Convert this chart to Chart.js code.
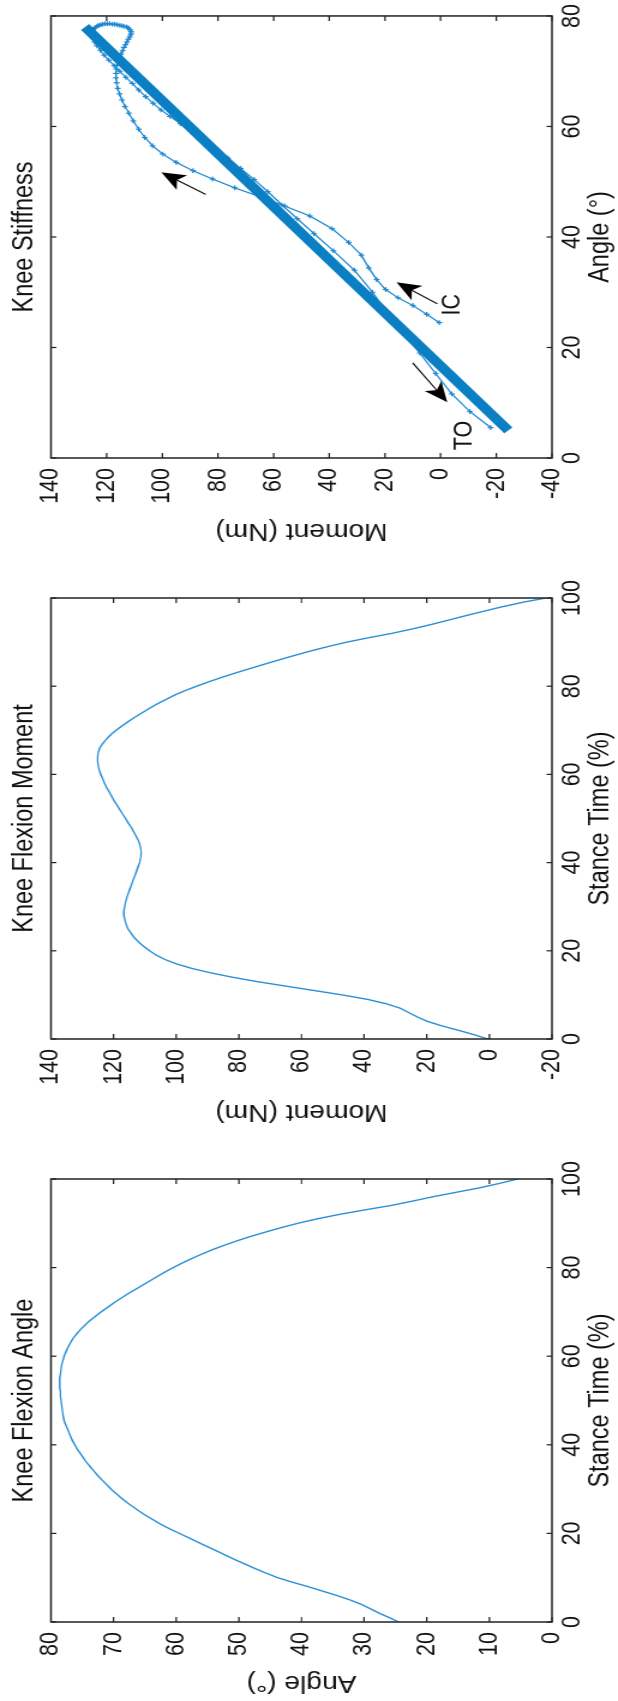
<!DOCTYPE html>
<html>
<head>
<meta charset="utf-8">
<script src="https://cdn.jsdelivr.net/npm/chart.js@4.4.1/dist/chart.umd.min.js"></script>
<style>
  html, body { margin: 0; padding: 0; background: #fff; overflow: hidden; }
  body { width: 618px; height: 1701px; position: relative; }
  /* figure is laid out landscape, then turned a quarter turn to the left */
  #figure { position: absolute; left: 0; top: 0; width: 1701px; height: 515px;
    transform-origin: 0 0; transform: translate(0, 1701px) rotate(-90deg) scale(1, 1.2); }
  #figure canvas { position: absolute; top: 0; }
</style>
</head>
<body>
<div id="figure">
  <canvas id="angleChart" width="544" height="515" style="left:0px"></canvas>
  <canvas id="momentChart" width="553" height="515" style="left:572px"></canvas>
  <canvas id="stiffnessChart" width="548" height="515" style="left:1153px"></canvas>
</div>
<script>
'use strict';

// stance time (%) and the two curves
var stanceTime = [0, 1, 2, 3, 4, 5, 6, 7, 8, 9, 10, 11, 12, 13, 14, 15, 16, 17, 18, 19,
  20, 21, 22, 23, 24, 25, 26, 27, 28, 29, 30, 31, 32, 33, 34, 35, 36, 37, 38, 39,
  40, 41, 42, 43, 44, 45, 46, 47, 48, 49, 50, 51, 52, 53, 54, 55, 56, 57, 58, 59,
  60, 61, 62, 63, 64, 65, 66, 67, 68, 69, 70, 71, 72, 73, 74, 75, 76, 77, 78, 79,
  80, 81, 82, 83, 84, 85, 86, 87, 88, 89, 90, 91, 92, 93, 94, 95, 96, 97, 98, 99, 100];
var kneeAngle = [24.5, 26.0, 27.6, 29.0, 30.5, 32.3, 34.4, 36.7, 39.0, 41.5,
  43.8, 45.6, 47.3, 48.9, 50.5, 52.0, 53.5, 55.0, 56.5, 58.0,
  59.5, 61.0, 62.4, 63.6, 64.8, 65.9, 66.9, 67.9, 68.8, 69.6,
  70.4, 71.1, 71.8, 72.5, 73.1, 73.7, 74.3, 74.8, 75.3, 75.8,
  76.2, 76.6, 76.9, 77.2, 77.5, 77.8, 78.0, 78.1, 78.2, 78.3,
  78.4, 78.5, 78.5, 78.6, 78.6, 78.6, 78.5, 78.4, 78.3, 78.1,
  77.9, 77.6, 77.3, 76.9, 76.5, 75.9, 75.3, 74.6, 73.8, 72.9,
  72.0, 71.0, 70.0, 68.9, 67.8, 66.6, 65.4, 64.2, 63.0, 61.8,
  60.5, 59.1, 57.6, 56.0, 54.3, 52.4, 50.4, 48.2, 45.8, 43.3,
  40.6, 37.5, 34.0, 30.0, 25.8, 22.3, 19.0, 15.3, 11.6, 8.4, 5.5];
var kneeMoment = [0.5, 5.0, 10.0, 15.3, 19.8, 23.0, 25.8, 28.5, 33.0, 39.0,
  47.0, 56.0, 65.0, 74.0, 82.0, 89.0, 95.0, 99.8, 103.5, 106.3,
  108.5, 110.4, 112.0, 113.4, 114.5, 115.4, 116.0, 116.4, 116.7, 116.7,
  116.5, 116.2, 115.8, 115.3, 114.8, 114.3, 113.8, 113.2, 112.7, 112.2,
  111.7, 111.4, 111.2, 111.3, 111.6, 112.1, 112.8, 113.6, 114.4, 115.3,
  116.2, 117.1, 118.0, 118.9, 119.8, 120.6, 121.4, 122.2, 122.9, 123.5,
  124.1, 124.6, 124.9, 125.1, 125.1, 124.9, 124.4, 123.5, 122.3, 120.9,
  119.2, 117.3, 115.3, 113.1, 110.8, 108.5, 106.0, 103.3, 100.5, 97.2,
  93.5, 89.6, 85.5, 81.1, 76.5, 71.8, 67.0, 62.1, 57.0, 51.5,
  45.5, 38.5, 31.0, 24.5, 18.5, 13.0, 7.5, 1.8, -4.0, -10.5, -18.0];

// thick stiffness line, end points
var fitAngle = [5, 78];
var fitMoment = [-24.3, 127.8];

// arrows and labels on the stiffness plot (data units)
var arrowFromAngle = [27.9, 17.2, 47.7];
var arrowFromMoment = [1.2, 10.0, 84.4];
var arrowToAngle = [31.8, 10.1, 51.7];
var arrowToMoment = [15.8, -2.4, 100.3];
var noteText = ['IC', 'TO'];
var noteAngle = [25.8, 1.4];
var noteMoment = [-7, -11.2];

// tick labels
var timeTicks = [0, 20, 40, 60, 80, 100];
var angleTicks = [0, 10, 20, 30, 40, 50, 60, 70, 80];
var momentTicks = [-20, 0, 20, 40, 60, 80, 100, 120, 140];
var stiffMomentTicks = [-40, -20, 0, 20, 40, 60, 80, 100, 120, 140];
var stiffAngleTicks = [0, 20, 40, 60, 80];

var FONT = "'Liberation Sans', Arial, Helvetica, sans-serif";
var INK = '#111';
var TICK_SIZE = 21.5;
var LABEL_SIZE = 23.5;   // titles and axis labels are a bit bigger than ticks
Chart.defaults.font.family = FONT;
Chart.defaults.font.size = TICK_SIZE;
Chart.defaults.color = INK;
Chart.defaults.animation = false;

function pairs(xs, ys) {
  return xs.map(function(x, i) { return { x: x, y: ys[i] }; });
}

function fixedTicks(values) {
  return function(scale) {
    scale.ticks = values.map(function(v) { return { value: v }; });
  };
}

function xAxis(title, values) {
  return {
    type: 'linear', min: values[0], max: values[values.length - 1],
    afterBuildTicks: fixedTicks(values),
    afterFit: function(s) { s.height = 55; },
    grid: { display: false, drawTicks: false }, border: { display: false },
    ticks: { padding: 4, maxRotation: 0, autoSkip: false },
    title: { display: true, text: title, font: { size: LABEL_SIZE }, padding: { top: 0, bottom: 0 } }
  };
}

function yAxis(title, values, width, titlePad) {
  return {
    type: 'linear', min: values[0], max: values[values.length - 1],
    afterBuildTicks: fixedTicks(values),
    afterFit: function(s) { s.width = width; },
    grid: { display: false, drawTicks: false }, border: { display: false },
    ticks: { padding: 10, autoSkip: false },
    title: { display: true, text: title, font: { size: LABEL_SIZE }, padding: { top: titlePad, bottom: 0 } }
  };
}

// matlab style box with inward ticks on all four sides
var matlabBox = {
  id: 'matlabBox',
  afterDraw: function(chart) {
    var a = chart.chartArea, ctx = chart.ctx;
    var xs = chart.scales.x, ys = chart.scales.y;
    ctx.save();
    ctx.strokeStyle = '#222';
    ctx.lineWidth = 1.5;
    ctx.strokeRect(a.left, a.top, a.right - a.left, a.bottom - a.top);
    ctx.lineWidth = 1.2;
    ctx.beginPath();
    xs.ticks.forEach(function(t) {
      var px = xs.getPixelForValue(t.value);
      ctx.moveTo(px, a.bottom); ctx.lineTo(px, a.bottom - 4.5);
      ctx.moveTo(px, a.top); ctx.lineTo(px, a.top + 4.5);
    });
    ys.ticks.forEach(function(t) {
      var py = ys.getPixelForValue(t.value);
      ctx.moveTo(a.left, py); ctx.lineTo(a.left + 5, py);
      ctx.moveTo(a.right, py); ctx.lineTo(a.right - 5, py);
    });
    ctx.stroke();
    ctx.restore();
  }
};

var stiffNotes = {
  id: 'stiffNotes',
  afterDatasetsDraw: function(chart) {
    var ctx = chart.ctx, xs = chart.scales.x, ys = chart.scales.y;
    ctx.save();
    ctx.strokeStyle = '#000';
    ctx.fillStyle = '#000';
    ctx.lineWidth = 1.1;
    for (var i = 0; i < arrowFromAngle.length; i++) {
      var x0 = xs.getPixelForValue(arrowFromAngle[i]), y0 = ys.getPixelForValue(arrowFromMoment[i]);
      var x1 = xs.getPixelForValue(arrowToAngle[i]), y1 = ys.getPixelForValue(arrowToMoment[i]);
      var ang = Math.atan2(y1 - y0, x1 - x0);
      var len = 20, half = 8.5, notch = 5;
      var bx = x1 - len * Math.cos(ang), by = y1 - len * Math.sin(ang);
      ctx.beginPath();
      ctx.moveTo(x0, y0);
      ctx.lineTo(bx + notch * Math.cos(ang), by + notch * Math.sin(ang));
      ctx.stroke();
      ctx.beginPath();
      ctx.moveTo(x1, y1);
      ctx.lineTo(bx - half * Math.sin(ang), by + half * Math.cos(ang));
      ctx.lineTo(bx + notch * Math.cos(ang), by + notch * Math.sin(ang));
      ctx.lineTo(bx + half * Math.sin(ang), by - half * Math.cos(ang));
      ctx.closePath();
      ctx.fill();
    }
    ctx.fillStyle = INK;
    ctx.font = TICK_SIZE + 'px ' + FONT;
    ctx.textAlign = 'left';
    ctx.textBaseline = 'alphabetic';
    for (var j = 0; j < noteText.length; j++) {
      ctx.fillText(noteText[j], xs.getPixelForValue(noteAngle[j]), ys.getPixelForValue(noteMoment[j]));
    }
    ctx.restore();
  }
};

function panel(id, title, datasets, scales, rightPad, extra) {
  return new Chart(document.getElementById(id), {
    type: 'scatter',
    data: { datasets: datasets },
    options: {
      responsive: false,
      maintainAspectRatio: false,
      layout: { padding: { top: 0, left: 0, right: rightPad, bottom: 0 } },
      plugins: {
        legend: { display: false },
        tooltip: { enabled: false },
        title: { display: true, text: title, fullSize: false, color: INK,
          font: { size: LABEL_SIZE, weight: 'normal' }, padding: { top: 6.8, bottom: 7.5 } }
      },
      scales: scales
    },
    plugins: [matlabBox].concat(extra || [])
  });
}

var thin = { showLine: true, borderColor: '#2a8fd6', borderWidth: 1.4, pointRadius: 0, fill: false };

panel('angleChart', 'Knee Flexion Angle',
  [Object.assign({ data: pairs(stanceTime, kneeAngle) }, thin)],
  { x: xAxis('Stance Time (%)', timeTicks), y: yAxis('Angle (°)', angleTicks, 79, 4.4) }, 22);

panel('momentChart', 'Knee Flexion Moment',
  [Object.assign({ data: pairs(stanceTime, kneeMoment) }, thin)],
  { x: xAxis('Stance Time (%)', timeTicks), y: yAxis('Moment (Nm)', momentTicks, 90, 3.9) }, 22);

panel('stiffnessChart', 'Knee Stiffness',
  [
    { data: pairs(fitAngle, fitMoment), showLine: true, borderColor: '#0b7fc4', borderWidth: 9,
      borderCapStyle: 'butt', pointRadius: 0, fill: false },
    { data: pairs(kneeAngle, kneeMoment), showLine: true, borderColor: '#1b86cf', borderWidth: 1.2,
      pointStyle: 'cross', pointRadius: 2.4, pointBorderWidth: 1.2, pointBorderColor: '#1b86cf', fill: false }
  ],
  { x: xAxis('Angle (°)', stiffAngleTicks), y: yAxis('Moment (Nm)', stiffMomentTicks, 90, 3.9) }, 14,
  [stiffNotes]);
</script>
</body>
</html>
